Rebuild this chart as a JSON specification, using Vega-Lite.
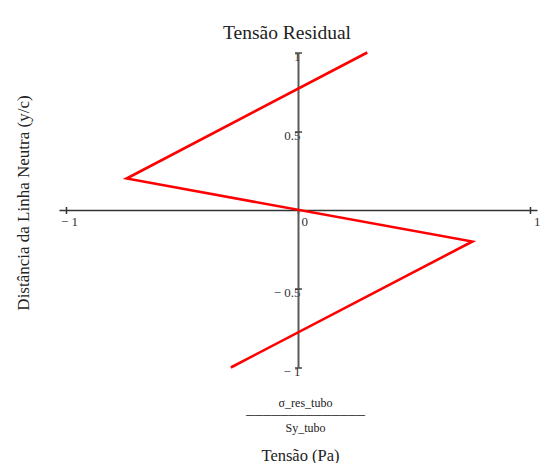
{
  "$schema": "https://vega.github.io/schema/vega-lite/v6.json",
  "autosize": {"type": "none"},
  "padding": {"left": 59, "top": 52.5, "right": 8, "bottom": 95.5},
  "width": 478,
  "height": 315,
  "background": "white",
  "title": {
    "text": "Tensão Residual",
    "font": "Liberation Serif",
    "fontSize": 19.5,
    "fontWeight": "normal",
    "color": "#222222",
    "frame": "group",
    "baseline": "alphabetic",
    "offset": 14,
    "dx": -11,
    "dy": 25
  },
  "data": {
    "values": [
      {"ponto": 1, "tensao": 0.298, "distancia": 1.0},
      {"ponto": 2, "tensao": -0.737, "distancia": 0.2},
      {"ponto": 3, "tensao": 0.75, "distancia": -0.2},
      {"ponto": 4, "tensao": -0.289, "distancia": -1.0}
    ]
  },
  "config": {
    "view": {"stroke": null},
    "axis": {
      "labelFont": "Liberation Serif",
      "labelFontSize": 13,
      "labelColor": "#333333",
      "titleFont": "Liberation Serif",
      "titleFontWeight": "normal",
      "titleColor": "#222222",
      "grid": false
    }
  },
  "resolve": {"axis": {"x": "independent", "y": "independent"}},
  "layer": [
    {
      "mark": {"type": "line", "color": "#ff0000", "strokeWidth": 2.6, "clip": false},
      "encoding": {
        "x": {
          "field": "tensao",
          "type": "quantitative",
          "scale": {"domain": [-1.028, 1.028], "nice": false, "zero": false},
          "axis": {
            "orient": "bottom",
            "offset": -157.5,
            "values": [-1, 0, 1],
            "labelExpr": "datum.value < 0 ? '− ' + abs(datum.value) : '' + datum.value",
            "labelAlign": "left",
            "labelBaseline": "top",
            "labelPadding": 2,
            "labelOffset": {"condition": {"test": "datum.value < 0", "value": -5}, "value": 3},
            "domainColor": "#333333",
            "domainWidth": 1.5,
            "tickColor": "#333333",
            "tickWidth": 1.5,
            "tickSize": 3.5,
            "title": ["σ_res_tubo", "──────────────", "Sy_tubo"],
            "titleFontSize": 12,
            "titleLineHeight": 12.5,
            "titleX": 246,
            "titleY": 187,
            "titleBaseline": "top",
            "titleAlign": "center"
          }
        },
        "y": {
          "field": "distancia",
          "type": "quantitative",
          "scale": {"domain": [-1, 1], "nice": false, "zero": false},
          "axis": {
            "orient": "left",
            "offset": -239,
            "values": [-1, -0.5, 0.5, 1],
            "labelExpr": "datum.value < 0 ? '− ' + abs(datum.value) : '' + datum.value",
            "labelAlign": "right",
            "labelBaseline": "middle",
            "labelPadding": -5.5,
            "labelOffset": 4,
            "domainColor": "#5a5a5a",
            "domainWidth": 2,
            "tickColor": "#444444",
            "tickWidth": 1.5,
            "tickSize": 3.5,
            "title": "Distância da Linha Neutra (y/c)",
            "titleFontSize": 17,
            "titleAngle": -90,
            "titleBaseline": "middle",
            "titleAlign": "center",
            "titleX": -275,
            "titleY": 150
          }
        },
        "order": {"field": "ponto", "type": "ordinal"}
      }
    },
    {
      "mark": {"type": "line", "opacity": 0, "clip": false},
      "encoding": {
        "x": {
          "field": "tensao",
          "type": "quantitative",
          "scale": {"domain": [-1.028, 1.028], "nice": false, "zero": false},
          "axis": {
            "orient": "top",
            "offset": -157.5,
            "values": [-1, 1],
            "labels": false,
            "domain": false,
            "tickColor": "#333333",
            "tickWidth": 1.5,
            "tickSize": 3.5,
            "title": "Tensão (Pa)",
            "titleFontSize": 16.5,
            "titleX": 241,
            "titleY": 245,
            "titleBaseline": "middle",
            "titleAlign": "center"
          }
        },
        "y": {
          "field": "distancia",
          "type": "quantitative",
          "scale": {"domain": [-1, 1], "nice": false, "zero": false},
          "axis": {
            "orient": "right",
            "offset": -239,
            "values": [-1, -0.5, 0.5, 1],
            "labels": false,
            "domain": false,
            "tickColor": "#444444",
            "tickWidth": 1.5,
            "tickSize": 3.5,
            "title": null
          }
        },
        "order": {"field": "ponto", "type": "ordinal"}
      }
    }
  ]
}
